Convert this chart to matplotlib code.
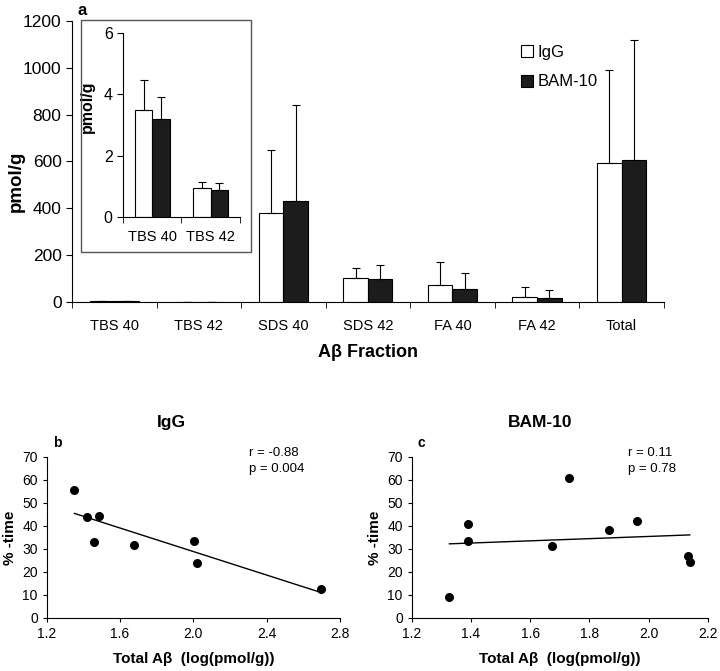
import numpy as np
import matplotlib.pyplot as plt
from matplotlib.lines import Line2D
from matplotlib.patches import Rectangle

plt.rcParams['font.family'] = ['Liberation Sans', 'DejaVu Sans']

# panel a: A-beta fractions (pmol/g), mean and mean+SD
fractions = ["TBS 40", "TBS 42", "SDS 40", "SDS 42", "FA 40", "FA 42", "Total"]
igg_mean = [3.5, 0.95, 380, 102, 72, 22, 592]
igg_top = [4.45, 1.15, 650, 145, 172, 65, 990]
bam_mean = [3.2, 0.88, 430, 96, 56, 16, 605]
bam_top = [3.9, 1.1, 840, 157, 125, 50, 1120]

# inset: TBS fractions only
inset_labels = ["TBS 40", "TBS 42"]
inset_igg = igg_mean[:2]
inset_igg_top = igg_top[:2]
inset_bam = bam_mean[:2]
inset_bam_top = bam_top[:2]

# panel b: IgG, total A-beta (log) vs %-time
igg_x = [1.351, 1.422, 1.485, 1.455, 1.678, 2.005, 2.020, 2.696]
igg_y = [55.8, 43.9, 44.5, 33.0, 31.9, 33.6, 23.8, 12.8]

# panel c: BAM-10
bam_x = [1.327, 1.389, 1.389, 1.674, 1.732, 1.867, 1.960, 2.132, 2.139]
bam_y = [9.1, 40.7, 33.6, 31.4, 61.0, 38.1, 42.3, 27.1, 24.3]

DARK = "#1c1c1c"

fig = plt.figure(figsize=(7.2, 6.71), dpi=100)


def bars(ax, n, a_mean, a_top, b_mean, b_top, w):
    x = np.arange(n)
    ax.bar(x - w / 2, a_mean, w, color="white", edgecolor="black", lw=0.8)
    ax.bar(x + w / 2, b_mean, w, color=DARK, edgecolor="black", lw=0.8)
    for off, m, t in [(-w / 2, a_mean, a_top), (w / 2, b_mean, b_top)]:
        m = np.array(m)
        ax.errorbar(x + off, m, yerr=[np.zeros_like(m), np.array(t) - m],
                    fmt="none", ecolor="black", elinewidth=0.8, capsize=3, capthick=0.8)
    ax.spines[["top", "right"]].set_visible(False)
    ax.set_xlim(-0.5, n - 0.5)
    ax.set_xticks(x)
    ax.set_xticks(np.arange(n + 1) - 0.5, minor=True)
    ax.tick_params(axis="x", which="major", length=0)
    ax.tick_params(axis="x", which="minor", length=4, direction="out")
    ax.tick_params(axis="y", direction="out", length=4)


# main bar chart
ax = fig.add_axes([0.1, 0.55, 0.822, 0.4188])
bars(ax, len(fractions), igg_mean, igg_top, bam_mean, bam_top, 0.29)
ax.set_ylim(0, 1200)
ax.set_yticks(range(0, 1201, 200))
ax.set_xticklabels(fractions, fontsize=10.5)
ax.tick_params(axis="y", labelsize=12.5)
ax.tick_params(axis="x", pad=12)
ax.set_ylabel("pmol/g", fontsize=13.5, fontweight="bold")
ax.yaxis.set_label_coords(-0.08, 0.43)
ax.set_xlabel("A\u03b2 Fraction", fontsize=13, fontweight="bold", labelpad=8)
fig.text(0.107, 0.985, "a", fontsize=12, fontweight="bold", va="center")

handles = [Line2D([], [], ls="none", marker="s", ms=9, mfc="white", mec="black", mew=0.8),
           Line2D([], [], ls="none", marker="s", ms=9, mfc=DARK, mec="black", mew=0.8)]
fig.legend(handles, ["IgG", "BAM-10"], loc="upper left", bbox_to_anchor=(0.7, 0.955),
           frameon=False, fontsize=12, handletextpad=0.1, labelspacing=0.85, handlelength=1)

# inset frame and axes
fig.patches.append(Rectangle((0.1125, 0.6245), 0.236, 0.3458, transform=fig.transFigure,
                             fill=False, edgecolor="#555555", lw=1))
axi = fig.add_axes([0.171, 0.6766, 0.162, 0.2744])
bars(axi, 2, inset_igg, inset_igg_top, inset_bam, inset_bam_top, 0.3)
axi.set_ylim(0, 6)
axi.set_yticks([0, 2, 4, 6])
axi.set_xticklabels(inset_labels, fontsize=10.5)
axi.tick_params(axis="y", labelsize=11.5)
axi.tick_params(axis="x", pad=9)
axi.set_ylabel("pmol/g", fontsize=11.5, fontweight="bold")
axi.yaxis.set_label_coords(-0.24, 0.6)


def scatter_panel(rect, x, y, title, letter, r, p, xlim, xticks, txt_x, title_x):
    axs = fig.add_axes(rect)
    axs.scatter(x, y, s=30, color="black", zorder=3)
    k, b = np.polyfit(x, y, 1)
    xx = np.array([min(x), max(x)])
    axs.plot(xx, k * xx + b, color="black", lw=1)
    axs.set_xlim(*xlim)
    axs.set_xticks(xticks)
    axs.set_xticklabels([f"{t:.1f}" for t in xticks])
    axs.set_ylim(0, 70)
    axs.set_yticks(range(0, 71, 10))
    axs.spines[["top", "right"]].set_visible(False)
    axs.tick_params(labelsize=10, direction="out", length=3)
    axs.set_xlabel("Total A\u03b2  (log(pmol/g))", fontsize=11, fontweight="bold", labelpad=8)
    axs.set_ylabel("% -time", fontsize=11, fontweight="bold")
    axs.text(title_x, 1.217, title, transform=axs.transAxes, ha="center", va="center",
             fontsize=12.5, fontweight="bold")
    axs.text(0.02, 1.087, letter, transform=axs.transAxes, va="center",
             fontsize=10, fontweight="bold")
    axs.text(txt_x, 1.025, r, transform=axs.transAxes, va="center", fontsize=9.5)
    axs.text(txt_x, 0.925, p, transform=axs.transAxes, va="center", fontsize=9.5)
    return axs


scatter_panel([0.065, 0.079, 0.407, 0.24], igg_x, igg_y, "IgG", "b",
              "r = -0.88", "p = 0.004", (1.2, 2.8), [1.2, 1.6, 2.0, 2.4, 2.8], 0.69, 0.427)
scatter_panel([0.572, 0.079, 0.411, 0.24], bam_x, bam_y, "BAM-10", "c",
              "r = 0.11", "p = 0.78", (1.2, 2.2), [1.2, 1.4, 1.6, 1.8, 2.0, 2.2], 0.73, 0.432)

fig.savefig("out.png", dpi=100)
